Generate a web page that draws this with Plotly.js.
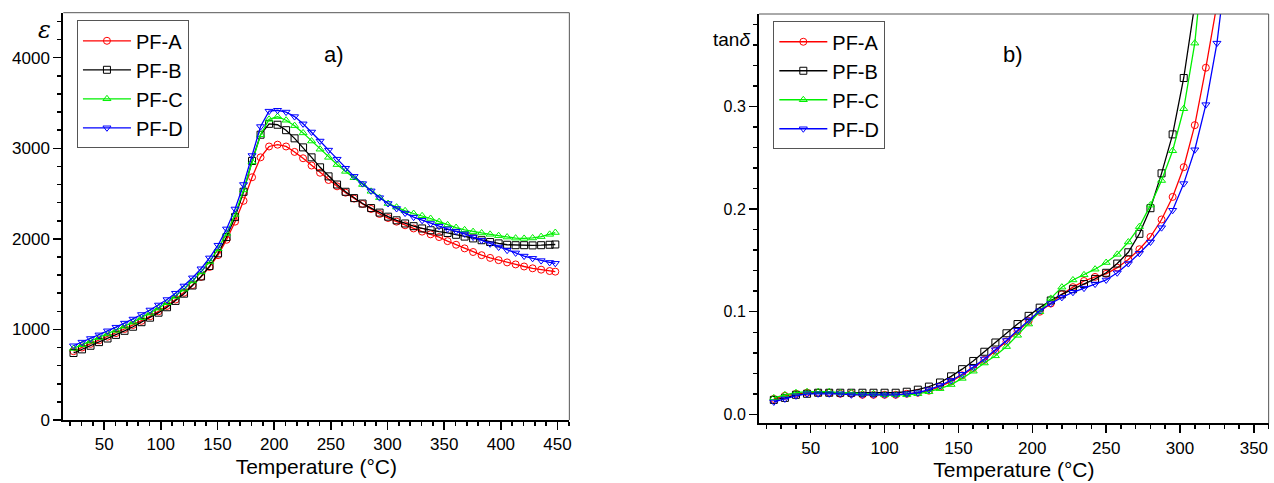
<!DOCTYPE html>
<html>
<head>
<meta charset="utf-8">
<script src="https://cdn.plot.ly/plotly-3.0.1.min.js"></script>
<style>html,body{margin:0;padding:0;background:#fff;}#chart{width:1274px;height:483px;}</style>
</head>
<body>
<div id="chart"></div>
<script>
// ---- Panel a): permittivity vs temperature ----
const tempA = [23,30.5,38,45.5,53,60.5,68,75.5,83,90.5,98,105.5,113,120.5,128,135.5,143,150.5,158,165.5,173,180.5,188,195.5,203,210.5,218,225.5,233,240.5,248,255.5,263,270.5,278,285.5,293,300.5,308,315.5,323,330.5,338,345.5,353,360.5,368,375.5,383,390.5,398,405.5,413,420.5,428,435.5,443,448];
const epsPFA = [760,800,840,880,920,960,1005,1050,1095,1145,1200,1260,1330,1405,1490,1580,1690,1820,1990,2190,2420,2680,2900,3020,3040,3020,2960,2890,2810,2730,2650,2580,2510,2445,2385,2330,2275,2230,2190,2150,2115,2080,2050,2020,1975,1935,1895,1855,1820,1790,1765,1740,1718,1695,1675,1660,1645,1638];
const epsPFB = [740,780,820,860,900,940,985,1030,1080,1130,1185,1245,1315,1395,1485,1585,1700,1840,2020,2240,2520,2860,3150,3270,3260,3200,3110,3010,2900,2790,2690,2600,2520,2450,2390,2340,2290,2245,2205,2170,2140,2115,2095,2080,2065,2045,2025,2005,1985,1965,1950,1935,1930,1930,1928,1930,1935,1938];
const epsPFC = [790,830,870,910,950,990,1035,1080,1130,1180,1235,1295,1365,1445,1535,1635,1750,1890,2060,2270,2540,2850,3150,3320,3350,3310,3250,3170,3080,2990,2900,2820,2745,2675,2600,2525,2455,2390,2350,2310,2280,2255,2225,2190,2155,2125,2100,2080,2065,2050,2035,2020,2008,2005,2010,2025,2050,2070];
const epsPFD = [820,860,900,940,985,1025,1070,1115,1165,1215,1270,1330,1400,1480,1570,1670,1790,1930,2110,2330,2600,2920,3240,3410,3420,3400,3350,3270,3180,3080,2980,2880,2780,2690,2610,2530,2455,2390,2335,2285,2240,2205,2170,2140,2110,2085,2055,2020,1985,1945,1910,1875,1845,1810,1785,1760,1740,1730];

// ---- Panel b): tan delta vs temperature ----
const tempB = [25,32.5,40,47.5,55,62.5,70,77.5,85,92.5,100,107.5,115,122.5,130,137.5,145,152.5,160,167.5,175,182.5,190,197.5,205,212.5,220,227.5,235,242.5,250,257.5,265,272.5,280,287.5,295,302.5,310,317.5,325,332.5];
const tanPFA = [0.015,0.018,0.020,0.021,0.021,0.021,0.020,0.020,0.019,0.019,0.019,0.019,0.020,0.021,0.023,0.027,0.032,0.038,0.045,0.053,0.062,0.071,0.081,0.091,0.100,0.108,0.117,0.124,0.130,0.134,0.137,0.143,0.151,0.161,0.173,0.190,0.212,0.241,0.282,0.338,0.400,null];
const tanPFB = [0.014,0.016,0.019,0.020,0.021,0.021,0.021,0.021,0.021,0.021,0.021,0.021,0.022,0.024,0.027,0.031,0.037,0.044,0.052,0.061,0.070,0.079,0.088,0.096,0.104,0.111,0.117,0.122,0.127,0.132,0.138,0.147,0.158,0.176,0.201,0.235,0.273,0.328,0.400,null,null,null];
const tanPFC = [0.016,0.019,0.021,0.022,0.022,0.022,0.021,0.021,0.020,0.020,0.019,0.019,0.019,0.020,0.022,0.025,0.029,0.035,0.042,0.050,0.057,0.066,0.077,0.088,0.100,0.113,0.124,0.131,0.136,0.1415,0.148,0.156,0.168,0.183,0.204,0.228,0.257,0.298,0.362,0.470,null,null];
const tanPFD = [0.012,0.015,0.018,0.020,0.020,0.020,0.020,0.019,0.019,0.019,0.019,0.019,0.020,0.021,0.024,0.028,0.033,0.039,0.046,0.054,0.063,0.072,0.082,0.092,0.101,0.108,0.114,0.119,0.123,0.127,0.131,0.138,0.147,0.157,0.168,0.182,0.199,0.225,0.258,0.302,0.362,0.450];

const names = ['PF-A','PF-B','PF-C','PF-D'];
const colors = ['#ff0000','#000000','#00f000','#0000ff'];
const symbols = ['circle-open','square-open','triangle-up-open','triangle-down-open'];

const FONT = 'Arial, "Liberation Sans", sans-serif';
const epsSeries = [epsPFA, epsPFB, epsPFC, epsPFD];
const tanSeries = [tanPFA, tanPFB, tanPFC, tanPFD];

const traces = [];
epsSeries.forEach((ys, i) => traces.push({
  x: tempA, y: ys, name: names[i], type: 'scatter', mode: 'lines+markers',
  xaxis: 'x', yaxis: 'y', legend: 'legend',
  line: {color: colors[i], width: 1.3},
  marker: {symbol: symbols[i], size: 7, color: colors[i], line: {width: 1, color: colors[i]}}
}));
tanSeries.forEach((ys, i) => traces.push({
  x: tempB, y: ys, name: names[i], type: 'scatter', mode: 'lines+markers',
  xaxis: 'x2', yaxis: 'y2', legend: 'legend2',
  line: {color: colors[i], width: 1.3},
  marker: {symbol: symbols[i], size: 7, color: colors[i], line: {width: 1, color: colors[i]}}
}));

function xAxis(domain, range, anchor) {
  return {
    domain: domain, range: range, anchor: anchor,
    tick0: 0, dtick: 50, ticks: 'outside', ticklen: 8, tickwidth: 1.5, tickcolor: '#000',
    showline: true, linewidth: 2, linecolor: '#000', zeroline: false, showgrid: false,
    tickfont: {size: 17, family: FONT, color: '#000'},
    minor: {dtick: 10, ticks: 'outside', ticklen: 4, tickwidth: 1.5, tickcolor: '#000', showgrid: false},
    title: {text: 'Temperature (°C)', font: {size: 21, family: FONT, color: '#000'}, standoff: 6}
  };
}

const legendBase = {
  xanchor: 'left', yanchor: 'top',
  bgcolor: '#fff', bordercolor: '#555', borderwidth: 1,
  font: {size: 20, family: FONT, color: '#000'}, tracegroupgap: 0, itemwidth: 48
};

const layout = {
  width: 1274, height: 483,
  margin: {l: 0, r: 0, t: 0, b: 0},
  paper_bgcolor: '#fff', plot_bgcolor: '#fff',
  font: {family: FONT, color: '#000'},
  xaxis: xAxis([0.0497, 0.4469], [14, 460.4], 'y'),
  yaxis: {
    domain: [0.1304, 0.9737], range: [0, 4497], anchor: 'x',
    tick0: 0, dtick: 1000, ticks: 'outside', ticklen: 8, tickwidth: 1.5, tickcolor: '#000',
    showline: true, linewidth: 2, linecolor: '#000', zeroline: false, showgrid: false,
    tickfont: {size: 17, family: FONT, color: '#000'},
    minor: {dtick: 200, ticks: 'outside', ticklen: 4, tickwidth: 1.5, tickcolor: '#000', showgrid: false}
  },
  xaxis2: xAxis([0.5958, 0.9958], [15, 360], 'y2'),
  yaxis2: {
    domain: [0.1236, 0.971], range: [-0.0088, 0.3904], anchor: 'x2',
    tick0: 0, dtick: 0.1, tickformat: '.1f', ticks: 'outside', ticklen: 8, tickwidth: 1.5, tickcolor: '#000',
    showline: true, linewidth: 2, linecolor: '#000', zeroline: false, showgrid: false,
    tickfont: {size: 16, family: FONT, color: '#000'},
    minor: {dtick: 0.02, ticks: 'outside', ticklen: 4, tickwidth: 1.5, tickcolor: '#000', showgrid: false}
  },
  legend: Object.assign({x: 0.0604, y: 0.958}, legendBase),
  legend2: Object.assign({x: 0.607, y: 0.956}, legendBase),
  shapes: [
    {type: 'line', xref: 'x domain', yref: 'y domain', x0: 0, x1: 1, y0: 1, y1: 1, line: {color: '#555', width: 1}},
    {type: 'line', xref: 'x domain', yref: 'y domain', x0: 1, x1: 1, y0: 0, y1: 1, line: {color: '#555', width: 1}},
    {type: 'line', xref: 'x2 domain', yref: 'y2 domain', x0: 0, x1: 1, y0: 1, y1: 1, line: {color: '#555', width: 1}},
    {type: 'line', xref: 'x2 domain', yref: 'y2 domain', x0: 1, x1: 1, y0: 0, y1: 1, line: {color: '#555', width: 1}}
  ],
  annotations: [
    {text: 'a)', xref: 'paper', yref: 'paper', x: 0.2527, y: 0.917, showarrow: false, font: {size: 22, family: FONT}},
    {text: 'b)', xref: 'paper', yref: 'paper', x: 0.8046, y: 0.917, showarrow: false, font: {size: 22, family: FONT}},
    {text: '<i>ε</i>', xref: 'paper', yref: 'paper', x: 0.0285, y: 0.972, showarrow: false, font: {size: 24, family: '"DejaVu Serif", serif'}},
    {text: 'tan<i>δ</i>', xref: 'paper', yref: 'paper', x: 0.5905, y: 0.944, xanchor: 'right', showarrow: false, font: {size: 19, family: FONT}}
  ]
};

Plotly.newPlot('chart', traces, layout, {displayModeBar: false, staticPlot: true});
</script>
</body>
</html>
